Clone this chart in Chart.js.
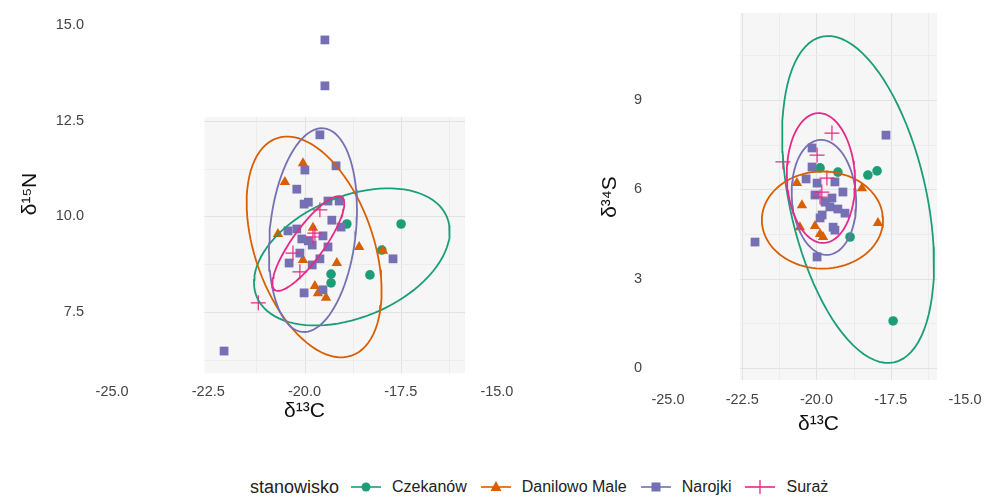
<!DOCTYPE html>
<html>
<head>
<meta charset="utf-8">
<script src="https://cdn.jsdelivr.net/npm/chart.js@4.4.0/dist/chart.umd.min.js"></script>
<style>
  body { margin: 0; background: #fff; width: 987px; height: 497px; position: relative; overflow: hidden; font-family: "Liberation Sans", Arial, sans-serif; }
  #leftChart { position: absolute; left: 0; top: 0; }
  #rightChart { position: absolute; left: 525px; top: 0; }
  #legend { position: absolute; left: 250px; top: 476px; height: 22px; display: flex; align-items: center; color: #222; }
  #legend .title { font-size: 18px; margin-right: 12px; }
  #legend .item { display: flex; align-items: center; font-size: 16px; margin-right: 14px; }
  #legend svg { margin-right: 11px; }
</style>
</head>
<body>
<canvas id="leftChart" width="525" height="440"></canvas>
<canvas id="rightChart" width="462" height="440"></canvas>
<div id="legend"></div>
<script>
// site names + colours (ggplot Dark2)
const sites = ['Czekanów', 'Danilowo Male', 'Narojki', 'Suraż'];
const siteColors = ['#1b9e77', '#d95f02', '#7570b3', '#e7298a'];
const siteShapes = ['circle', 'triangle', 'rect', 'cross'];
const shapeRadius = [4.8, 6, 6.2, 7.5];

// left panel: d13C vs d15N
const czekanowC_N = [-18.9, -17.49, -19.31, -19.31, -18.3, -17.99];
const czekanowN = [9.8, 9.8, 8.49, 8.26, 8.47, 9.12];
const danilowoC_N = [-20.04, -20.51, -20.69, -19.78, -20.04, -19.16, -18.58, -17.96, -19.73, -19.65, -19.44];
const danilowoN = [11.39, 10.9, 9.54, 9.7, 8.86, 8.78, 9.2, 9.1, 8.18, 7.99, 7.87];
const narojkiC_N = [-19.47, -19.47, -22.09, -19.6, -19.99, -19.18, -20.2, -20.01, -19.9, -19.39, -19.1, -19.29, -19.05, -20.43, -20.2, -20.07, -19.9, -19.8, -19.52, -19.39, -20.12, -20.4, -19.8, -19.6, -20.01, -19.52, -17.7];
const narojkiN = [14.61, 13.41, 6.48, 12.13, 11.21, 11.32, 10.71, 10.32, 10.37, 10.4, 10.4, 9.9, 9.72, 9.62, 9.67, 9.41, 9.36, 9.25, 9.49, 9.2, 9.04, 8.78, 8.73, 8.89, 8.0, 8.08, 8.89];
const surazC_N = [-21.2, -19.6, -19.73, -20.3, -20.12, -19.78];
const surazN = [7.74, 10.17, 9.56, 9.04, 8.55, 9.46];

// right panel: d13C vs d34S
const czekanowC_S = [-19.88, -19.28, -18.27, -17.96, -18.87, -17.42];
const czekanowS = [6.72, 6.58, 6.48, 6.62, 4.4, 1.58];
const danilowoC_S = [-20.66, -20.49, -20.56, -20.05, -19.88, -19.78, -18.47, -17.93];
const danilowoS = [6.21, 5.47, 4.73, 4.77, 4.5, 4.4, 6.04, 4.87];
const narojkiC_S = [-17.66, -22.07, -19.98, -20.15, -20.15, -20.35, -19.98, -19.38, -20.05, -19.48, -19.11, -19.55, -19.28, -19.04, -19.81, -19.88, -19.44, -19.38, -19.71];
const narojkiS = [7.82, 4.23, 3.73, 7.39, 6.75, 6.35, 6.21, 6.25, 5.81, 5.71, 5.91, 5.41, 5.34, 5.2, 5.14, 5.04, 4.73, 4.63, 5.57];
const surazC_S = [-19.48, -21.13, -19.98, -19.65, -19.82, -19.88];
const surazS = [7.89, 6.92, 7.15, 6.38, 5.91, 5.74];

// 95% ellipses: [centreX, centreY, axis1X, axis1Y, axis2X, axis2Y]
const ellipsesN = [
  [-18.77, 8.94, 2.47, 1.045, 0.608, -1.455],
  [-19.75, 9.2, -0.971, 2.84, 1.46, 0.504],
  [-19.78, 9.64, 0.283, 2.66, 1.109, -0.12],
  [-19.9, 9.29, 0.871, 1.214, 0.337, -0.245]
];
const ellipsesS = [
  [-18.6, 5.66, -1.215, 5.467, 2.25, 0.497],
  [-19.8, 4.97, 2.04, 0, 0, 1.63],
  [-19.75, 5.73, -0.135, 1.93, 1.077, 0.07],
  [-19.85, 6.38, -0.1, 2.18, 1.145, 0.05]
];

const xTicks = [-25, -22.5, -20, -17.5, -15];
const yTicksN = [7.5, 10, 12.5, 15];
const yTicksS = [0, 3, 6, 9];

// grey panel area and its grid, in data units
const panelN = { x: [-22.6, -15.83], y: [5.9, 12.6], gridX: [-21.25, -20, -18.75, -17.5, -16.25], gridY: [6.25, 7.5, 8.75, 10, 11.25, 12.5], major: [-20, -17.5, 7.5, 10, 12.5] };
const panelS = { x: [-22.58, -15.94], y: [-0.4, 11.92], gridX: [-22.5, -21.25, -20, -18.75, -17.5, -16.25], gridY: [0, 1.5, 3, 4.5, 6, 7.5, 9, 10.5], major: [-22.5, -20, -17.5, 0, 3, 6, 9] };

function toPoints(xs, ys) {
  return xs.map((x, i) => ({ x: x, y: ys[i] }));
}

function ellipsePoints(e) {
  const pts = [];
  for (let i = 0; i <= 90; i++) {
    const t = i / 90 * Math.PI * 2;
    pts.push({ x: e[0] + e[2] * Math.cos(t) + e[4] * Math.sin(t), y: e[1] + e[3] * Math.cos(t) + e[5] * Math.sin(t) });
  }
  return pts;
}

const panelPlugin = {
  id: 'panel',
  beforeDatasetsDraw(chart, args, opts) {
    const p = opts.panel;
    if (!p) return;
    const { ctx, scales: { x, y } } = chart;
    const l = x.getPixelForValue(p.x[0]), r = x.getPixelForValue(p.x[1]);
    const t = y.getPixelForValue(p.y[1]), b = y.getPixelForValue(p.y[0]);
    ctx.save();
    ctx.fillStyle = '#f6f6f6';
    ctx.fillRect(l, t, r - l, b - t);
    ctx.lineWidth = 1;
    p.gridX.forEach(v => {
      const px = Math.round(x.getPixelForValue(v)) + 0.5;
      ctx.strokeStyle = p.major.includes(v) ? '#e2e2e2' : '#ececec';
      ctx.beginPath(); ctx.moveTo(px, t); ctx.lineTo(px, b); ctx.stroke();
    });
    p.gridY.forEach(v => {
      const py = Math.round(y.getPixelForValue(v)) + 0.5;
      ctx.strokeStyle = p.major.includes(v) ? '#e2e2e2' : '#ececec';
      ctx.beginPath(); ctx.moveTo(l, py); ctx.lineTo(r, py); ctx.stroke();
    });
    ctx.restore();
  }
};

// fixed axis boxes, no extra padding for overhanging labels
function fixBox(s, w, h) {
  if (w) s.width = w;
  if (h) s.height = h;
  s.paddingLeft = 0; s.paddingRight = 0; s.paddingTop = 0; s.paddingBottom = 0;
}

function makeDatasets(groups, ellipses) {
  const sets = [];
  ellipses.forEach((e, i) => {
    sets.push({
      type: 'line', data: ellipsePoints(e), borderColor: siteColors[i], borderWidth: 1.8,
      pointRadius: 0, fill: false, tension: 0, order: 4 - i
    });
  });
  groups.forEach((g, i) => {
    const cross = siteShapes[i] === 'cross';
    sets.push({
      label: sites[i], data: toPoints(g[0], g[1]), pointStyle: siteShapes[i],
      pointRadius: shapeRadius[i], pointBackgroundColor: siteColors[i],
      pointBorderColor: siteColors[i], pointBorderWidth: cross ? 1.2 : 0, order: 10 - i
    });
  });
  return sets;
}

function makeChart(id, cfg) {
  return new Chart(document.getElementById(id), {
    type: 'scatter',
    data: { datasets: makeDatasets(cfg.groups, cfg.ellipses) },
    options: {
      responsive: false,
      animation: false,
      layout: { autoPadding: false, padding: { top: cfg.top, right: cfg.right, bottom: 0, left: 0 } },
      plugins: { legend: { display: false }, tooltip: { enabled: false }, panel: { panel: cfg.panel } },
      scales: {
        x: {
          min: cfg.xRange[0], max: cfg.xRange[1],
          grid: { display: false, drawTicks: false }, border: { display: false },
          afterBuildTicks: s => { s.ticks = xTicks.map(v => ({ value: v })); },
          afterFit: s => fixBox(s, 0, cfg.xAxisH),
          ticks: { padding: 5, color: '#444', font: { size: 14.5, family: 'Liberation Sans' }, callback: v => v.toFixed(1), maxRotation: 0 },
          title: { display: true, text: 'δ¹³C', color: '#111', font: { size: 21, family: 'Liberation Sans' }, padding: { top: 0, bottom: cfg.xTitlePad } }
        },
        y: {
          min: cfg.yRange[0], max: cfg.yRange[1],
          grid: { display: false, drawTicks: false }, border: { display: false },
          afterBuildTicks: s => { s.ticks = cfg.yTicks.map(v => ({ value: v })); },
          afterFit: s => fixBox(s, cfg.yAxisW, 0),
          ticks: { padding: cfg.yTickPad, color: '#444', font: { size: 14.5, family: 'Liberation Sans' }, callback: cfg.yFormat },
          title: { display: true, text: cfg.yTitle, color: '#111', font: { size: 21, family: 'Liberation Sans' }, padding: { top: cfg.yTitlePad, bottom: 0 } }
        }
      }
    },
    plugins: [panelPlugin]
  });
}

makeChart('leftChart', {
  groups: [[czekanowC_N, czekanowN], [danilowoC_N, danilowoN], [narojkiC_N, narojkiN], [surazC_N, surazN]],
  ellipses: ellipsesN, panel: panelN,
  xRange: [-25.6, -14.4], yRange: [5.776, 15.392], yTicks: yTicksN,
  top: 10, right: 5, xAxisH: 62, yAxisW: 89, yTickPad: 5,
  xTitlePad: 16, yTitle: 'δ¹⁵N', yTitlePad: 18, yFormat: v => v.toFixed(1)
});

makeChart('rightChart', {
  groups: [[czekanowC_S, czekanowS], [danilowoC_S, danilowoS], [narojkiC_S, narojkiS], [surazC_S, surazS]],
  ellipses: ellipsesS, panel: panelS,
  xRange: [-25.606, -14.259], yRange: [-0.604, 12.09], yTicks: yTicksS,
  top: 8, right: 0, xAxisH: 54, yAxisW: 125, yTickPad: 8,
  xTitlePad: 3, yTitle: 'δ³⁴S', yTitlePad: 73, yFormat: v => String(v)
});

// legend across the bottom
function keySvg(i) {
  const c = siteColors[i];
  let mark = '';
  if (siteShapes[i] === 'circle') mark = `<circle cx="15" cy="8" r="4.5" fill="${c}"/>`;
  if (siteShapes[i] === 'triangle') mark = `<polygon points="15,2 20.5,12 9.5,12" fill="${c}"/>`;
  if (siteShapes[i] === 'rect') mark = `<rect x="10.5" y="3.5" width="9" height="9" fill="${c}"/>`;
  if (siteShapes[i] === 'cross') mark = `<line x1="15" y1="1" x2="15" y2="15" stroke="${c}" stroke-width="1.3"/>`;
  return `<svg width="30" height="16"><line x1="0" y1="8" x2="30" y2="8" stroke="${c}" stroke-width="1.6"/>${mark}</svg>`;
}

const legend = document.getElementById('legend');
legend.innerHTML = '<span class="title">stanowisko</span>' +
  sites.map((s, i) => `<span class="item">${keySvg(i)}${s}</span>`).join('');
</script>
</body>
</html>
